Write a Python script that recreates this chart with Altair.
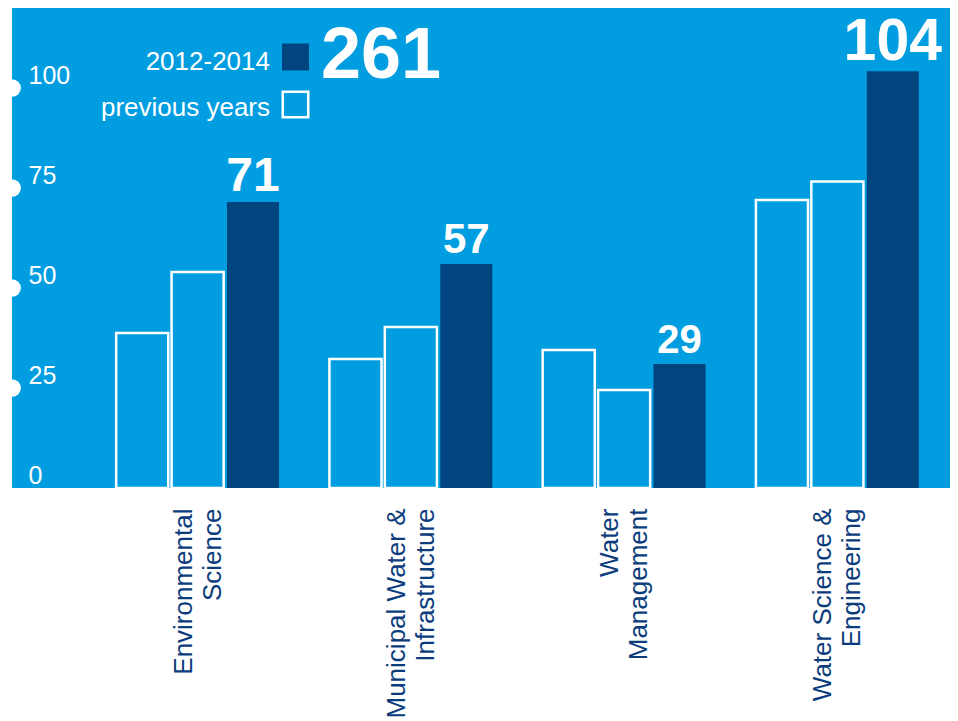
import altair as alt
import pandas as pd

# ---- data ----
categories = ["Environmental|Science", "Municipal Water &|Infrastructure",
              "Water|Management", "Water Science &|Engineering"]
periods = ["previous 1", "previous 2", "2012-2014"]
prev1 = [38.75, 32.25, 34.5, 72.0]
prev2 = [54.0, 40.25, 24.5, 76.6]
current_bar = [71.5, 56.0, 31.0, 104.2]
current_label = [71, 57, 29, 104]
y_ticks = [0, 25, 50, 75, 100]
marker_ticks = [25, 50, 75, 100]
legend_labels = ["2012-2014", "previous years"]

# ---- styles ----
BLUE = "#009EE0"
NAVY = "#00457F"
NAVY_TEXT = "#0B3C7C"
FONT = "Liberation Sans"

prev_df = pd.DataFrame({
    "category": categories * 2,
    "period": [periods[0]] * 4 + [periods[1]] * 4,
    "value": prev1 + prev2,
})
cur_df = pd.DataFrame({
    "category": categories,
    "period": [periods[2]] * 4,
    "value": current_bar,
    "label": current_label,
})
marker_df = pd.DataFrame({"value": marker_ticks})

X = alt.X("category:N", sort=categories,
          scale=alt.Scale(range=[79, 932], paddingInner=0.236, paddingOuter=0.118),
          axis=alt.Axis(title=None, labelAngle=-90, labelAlign="right", labelBaseline="middle",
                        labelPadding=20, labelOffset=-14, ticks=False, tickSize=0, domain=False,
                        grid=False, labelExpr="split(datum.label, '|')", labelColor=NAVY_TEXT,
                        labelFontSize=26, labelLineHeight=29, labelLimit=400, labelFont=FONT))
XO = alt.XOffset("period:N", sort=periods, scale=alt.Scale(paddingInner=0.06, paddingOuter=0))
Y = alt.Y("value:Q", scale=alt.Scale(domain=[0, 120], nice=False),
          axis=alt.Axis(values=y_ticks, title=None, ticks=False, tickSize=0, domain=False, grid=False,
                        labelAlign="left", labelPadding=-16, labelBaseline="alphabetic",
                        labelOffset=-5, labelColor="white", labelFontSize=25, labelFont=FONT,
                        labelFlush=False, labelOverlap=False))

prev = alt.Chart(prev_df).mark_bar(fill=BLUE, stroke="white", strokeWidth=2.5).encode(
    x=X, xOffset=XO, y=Y)
cur = alt.Chart(cur_df).mark_bar(fill=NAVY).encode(x=X, xOffset=XO, y=Y)
vals = alt.Chart(cur_df).mark_text(font=FONT, fontWeight="bold", color="white",
                                   baseline="alphabetic", dy=-11).encode(
    x=X, xOffset=XO, y=Y, text="label:Q",
    size=alt.Size("category:N",
                  scale=alt.Scale(type="ordinal", domain=categories, range=[48, 42, 40, 59]),
                  legend=None))

markers = alt.Chart(marker_df).mark_circle(size=314, color="white", opacity=1, clip=True).encode(
    x=alt.value(0), y=Y)

leg1_df = pd.DataFrame({"label": [legend_labels[0]]})
leg2_df = pd.DataFrame({"label": [legend_labels[1]]})
t1 = alt.Chart(leg1_df).mark_text(align="right", baseline="alphabetic", fontSize=26,
                                  color="white", font=FONT).encode(
    text="label:N", x=alt.value(258), y=alt.value(62))
t2 = alt.Chart(leg2_df).mark_text(align="right", baseline="alphabetic", fontSize=26,
                                  color="white", font=FONT).encode(
    text="label:N", x=alt.value(258), y=alt.value(108))
s1 = alt.Chart(leg1_df).mark_point(shape="square", filled=True, fill=NAVY, size=729,
                                   opacity=1, strokeWidth=0).encode(
    x=alt.value(283.5), y=alt.value(49))
s2 = alt.Chart(leg2_df).mark_point(shape="square", filled=False, stroke="white", size=650,
                                   strokeWidth=2.5, opacity=1).encode(
    x=alt.value(283.5), y=alt.value(96.5))
total = alt.Chart(cur_df).transform_aggregate(total="sum(label)").mark_text(
    align="left", baseline="alphabetic", fontSize=72, fontWeight="bold",
    color="white", font=FONT).encode(text="total:Q", x=alt.value(309), y=alt.value(70))

chart = alt.layer(prev, cur, vals, markers, t1, t2, s1, s2, total).properties(
    width=938, height=480,
    padding={"left": 4, "top": 0, "right": 0, "bottom": 0},
    background="white",
).configure_view(fill=BLUE, stroke=None)

chart.save("out.html", embed_options={"renderer": "svg", "actions": False})
